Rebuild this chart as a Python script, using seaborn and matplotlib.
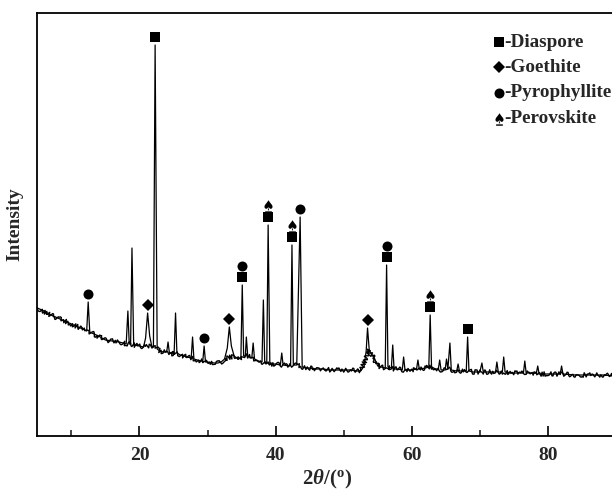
import matplotlib
matplotlib.use("Agg")
import matplotlib.pyplot as plt
from matplotlib.path import Path
from matplotlib.textpath import TextPath
from matplotlib.font_manager import FontProperties
from matplotlib.transforms import offset_copy
import pandas as pd
import seaborn as sns

# Diffraction trace: 2-theta (degrees) and intensity (a.u.)
two_theta = [
    5.0, 6.0, 7.0, 8.0, 9.0, 10.0, 11.0, 12.0, 12.25, 12.47, 12.7, 13.0, 14.0, 15.0,
    16.0, 17.0, 17.6, 18.05, 18.3, 18.5, 18.7, 18.9, 19.15, 20.0, 20.6, 20.9, 21.2,
    21.5, 21.8, 22.05, 22.3, 22.6, 23.0, 23.5, 24.0, 24.2, 24.4, 25.0, 25.1, 25.3,
    25.5, 26.0, 27.0, 27.6, 27.8, 28.0, 29.0, 29.3, 29.5, 29.7, 30.0, 31.0, 31.5,
    32.0, 32.5, 32.9, 33.2, 33.5, 33.9, 34.5, 34.9, 35.1, 35.3, 35.55, 35.7, 35.9,
    36.5, 36.7, 36.9, 37.5, 38.0, 38.2, 38.4, 38.7, 38.9, 39.15, 40.0, 40.7, 40.9,
    41.1, 42.0, 42.2, 42.4, 42.6, 43.1, 43.6, 43.9, 44.5, 45.0, 46.0, 47.0, 48.0,
    49.0, 50.0, 51.0, 52.0, 52.5, 53.0, 53.3, 53.5, 53.75, 54.0, 54.5, 55.0, 55.5,
    56.1, 56.3, 56.5, 57.0, 57.2, 57.4, 58.0, 58.6, 58.8, 59.0, 60.0, 60.7, 60.9,
    61.1, 62.0, 62.5, 62.7, 62.9, 63.5, 63.9, 64.1, 64.3, 64.9, 65.1, 65.3, 65.6,
    65.8, 66.6, 66.8, 67.0, 68.0, 68.2, 68.4, 69.0, 70.0, 70.3, 70.5, 71.0, 72.3,
    72.5, 72.7, 73.3, 73.5, 73.7, 75.0, 76.4, 76.6, 76.8, 78.3, 78.5, 78.7, 80.0,
    81.8, 82.0, 82.2, 84.0, 86.0, 88.0, 90.0,
]
intensity = [
    128, 125, 121, 118, 115, 112, 109, 106, 105, 134, 104, 103, 100, 96,
    95, 94, 93, 92, 125, 92, 92, 188, 91, 90, 89, 98, 123,
    100, 90, 89, 391, 87, 85, 84, 84, 94, 83, 82, 84, 123,
    83, 81, 79, 78, 99, 77, 75, 75, 90, 74, 74, 73, 73,
    74, 77, 88, 109, 90, 80, 77, 78, 151, 80, 80, 99, 80,
    78, 93, 77, 75, 74, 136, 73, 73, 211, 72, 72, 71, 83,
    71, 70, 71, 191, 71, 71, 219, 69, 68, 68, 67, 67, 66,
    66, 66, 66, 65, 65, 70, 85, 108, 86, 83, 78, 70, 69,
    68, 171, 69, 68, 91, 67, 67, 66, 79, 66, 66, 67, 76,
    67, 68, 69, 121, 69, 67, 67, 76, 66, 66, 77, 67, 93,
    66, 65, 72, 65, 65, 99, 65, 64, 64, 73, 64, 64, 64,
    74, 64, 64, 79, 64, 63, 63, 75, 63, 63, 70, 62, 62,
    62, 70, 62, 61, 61, 61, 60,
]

# Phase assignments (peak positions, 2-theta)
diaspore = [22.3, 35.1, 38.9, 42.4, 56.3, 62.7, 68.2]
goethite = [21.2, 33.2, 53.5]
pyrophyllite = [12.47, 29.5, 35.1, 43.6, 56.3]
perovskite = [38.9, 42.4, 62.7]

legend_names = ["Diaspore", "Goethite", "Pyrophyllite", "Perovskite"]
x_ticks = [20, 40, 60, 80]
x_minor = [10, 30, 50, 70, 90]

sns.set_theme(style="white")
plt.rcParams["font.family"] = ["Liberation Serif", "DejaVu Sans"]
plt.rcParams["font.weight"] = "bold"
plt.rcParams["mathtext.fontset"] = "custom"
plt.rcParams["mathtext.rm"] = "Liberation Serif:bold"
plt.rcParams["mathtext.it"] = "Liberation Serif:italic:bold"
plt.rcParams["mathtext.bf"] = "Liberation Serif:bold"

fig = plt.figure(figsize=(6.12, 4.93), dpi=100)
ax = fig.add_axes([0.061, 0.1156, 0.9456, 0.858])

df = pd.DataFrame({"two_theta": two_theta, "intensity": intensity})

# Counting-noise texture along the background (points standing above a neighbour left out)
n = len(df)
keep = [
    not (0 < i < n - 1 and intensity[i] > min(intensity[i - 1], intensity[i + 1]) + 3)
    for i in range(n)
]
background = df[keep]
sns.lineplot(data=background, x="two_theta", y="intensity", ax=ax, color="black",
             linewidth=1.0, estimator=None, sort=False)
ax.lines[-1].set_sketch_params(scale=2.2, length=2.5, randomness=4.0)

# Measured trace
sns.lineplot(data=df, x="two_theta", y="intensity", ax=ax, color="black",
             linewidth=0.9, estimator=None, sort=False)

peak_height = dict(zip(two_theta, intensity))

# Perovskite symbol: spade over a short bar, centred on the origin
spade_tp = TextPath((0, 0), "\u2660", size=10, prop=FontProperties(family="DejaVu Sans"))
ext = spade_tp.get_extents()
sw = ext.x1 - ext.x0
sh = ext.y1 - ext.y0
gap, bar_h = 0.10 * sh, 0.14 * sh
total = bar_h + gap + sh
cx = (ext.x0 + ext.x1) / 2
spade_v = [(x - cx, y - ext.y0 + bar_h + gap - total / 2) for x, y in spade_tp.vertices]
spade_path = Path(spade_v, spade_tp.codes)
w = sw * 0.42
y0 = -total / 2
bar_path = Path([(-w, y0), (w, y0), (w, y0 + bar_h), (-w, y0 + bar_h), (-w, y0)],
                [Path.MOVETO, Path.LINETO, Path.LINETO, Path.LINETO, Path.CLOSEPOLY])
perov_marker = Path.make_compound_path(spade_path, bar_path)

styles = {
    "Diaspore": dict(marker="s", ms=7.2),
    "Goethite": dict(marker="D", ms=5.8),
    "Pyrophyllite": dict(marker="o", ms=7.2),
    "Perovskite": dict(marker=perov_marker, ms=9.0),
}


def draw_symbol(name, x, y, transform, clip=True):
    ax.plot([x], [y], color="black", mec="black", mew=0, linestyle="none",
            transform=transform, clip_on=clip, **styles[name])


phases = {"Diaspore": diaspore, "Goethite": goethite,
          "Pyrophyllite": pyrophyllite, "Perovskite": perovskite}
for name, positions in phases.items():
    for pos in positions:
        stacked = name in ("Pyrophyllite", "Perovskite") and pos in diaspore
        lift = 14.0 if stacked else 5.5
        tr = offset_copy(ax.transData, fig=fig, y=lift, units="points")
        draw_symbol(name, pos, peak_height[pos], tr)

# Phase key, upper right
key_y = [0.931, 0.872, 0.812, 0.750]
for name, ky in zip(legend_names, key_y):
    draw_symbol(name, 0.798, ky, ax.transAxes, clip=False)
    ax.text(0.806, ky, "-" + name, transform=ax.transAxes, fontsize=13.8,
            fontweight="bold", va="center", ha="left")

ax.set_xlim(5, 90)
ax.set_ylim(0, 423)
ax.set_xticks(x_ticks)
ax.set_xticks(x_minor, minor=True)
ax.set_xticklabels([str(t) for t in x_ticks])
ax.set_yticks([])
ax.tick_params(axis="x", which="major", direction="in", length=7, width=1.2,
               labelsize=14, pad=8, color="black", bottom=True)
ax.tick_params(axis="x", which="minor", direction="in", length=4, width=1.2,
               bottom=True)
for lbl in ax.get_xticklabels():
    lbl.set_fontweight("bold")
for s in ax.spines.values():
    s.set_linewidth(1.3)
    s.set_color("black")

ax.set_xlabel(r"$\mathrm{2}\mathit{\theta}\mathrm{/(}^{\mathrm{o}}\mathrm{)}$",
              fontsize=15, labelpad=3)
ax.set_ylabel("Intensity", fontsize=14, fontweight="bold", labelpad=10)

fig.savefig("out.png", dpi=100)
